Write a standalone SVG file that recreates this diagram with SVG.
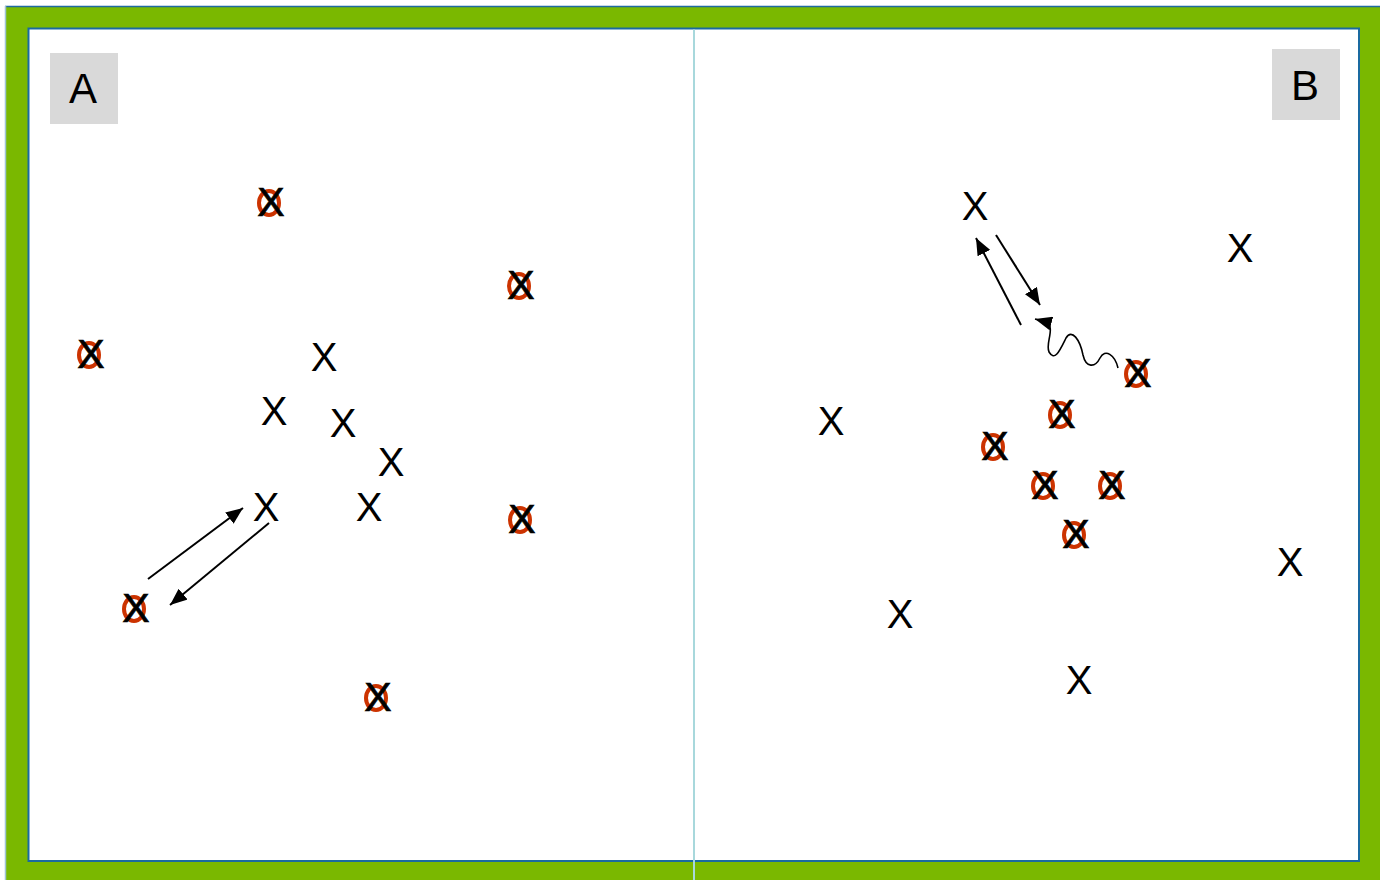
<svg xmlns="http://www.w3.org/2000/svg" width="1380" height="880" viewBox="0 0 1380 880">
<style>
.x{font-family:"Liberation Sans",Arial,sans-serif;font-size:40px;text-anchor:middle;fill:#000}
.xc{font-family:"Liberation Sans",Arial,sans-serif;font-size:41px;text-anchor:middle;fill:#000;stroke:#000;stroke-width:0.7}
.o{fill:none;stroke:#cc3300;stroke-width:4}
.lbl{font-family:"Liberation Sans",Arial,sans-serif;font-size:42px;text-anchor:middle;fill:#000}
.c{fill:none;stroke:#000;stroke-width:2}
</style>
<defs>
<marker id="ah" markerUnits="userSpaceOnUse" markerWidth="18" markerHeight="14" refX="17" refY="7" orient="auto">
<path d="M0,0 L17,7 L0,14 z" fill="#000"/>
</marker>
<g id="co"><ellipse cx="-2" cy="2" rx="10" ry="12" class="o"/></g>
</defs>
<rect x="0" y="0" width="1380" height="880" fill="#fff"/>
<rect x="5" y="6" width="1375" height="874" fill="#7ab800"/>
<line x1="5" y1="6.5" x2="1380" y2="6.5" stroke="#1f6aa0" stroke-width="1.5"/>
<line x1="5.5" y1="6" x2="5.5" y2="880" stroke="#9fc4d4" stroke-width="1.5"/>
<rect x="28.5" y="28.5" width="1330.5" height="832.5" fill="#fff" stroke="#1a6aa0" stroke-width="2"/>
<line x1="694" y1="29.5" x2="694" y2="880" stroke="#a8d8dc" stroke-width="2"/>

<g id="labelA"><rect x="50" y="53" width="68" height="71" fill="#d9d9d9"/><text x="83" y="103" class="lbl">A</text></g>
<g id="labelB"><rect x="1272" y="49" width="68" height="71" fill="#d9d9d9"/><text x="1305" y="100" class="lbl">B</text></g>

<g id="connectors">
<line x1="148" y1="579" x2="243" y2="508" class="c" marker-end="url(#ah)"/>
<line x1="269" y1="523" x2="170" y2="605" class="c" marker-end="url(#ah)"/>
<line x1="1021" y1="325" x2="976" y2="238" class="c" marker-end="url(#ah)"/>
<line x1="996" y1="235" x2="1040" y2="305" class="c" marker-end="url(#ah)"/>
<path d="M1118,368 C1115,355 1105,348 1100,358 C1095,368 1086,368 1083,355 C1080,340 1072,328 1066,338 C1060,350 1055,362 1049,352 C1045,343 1056,328 1046,322 L1035,319" fill="none" stroke="#000" stroke-width="1.6" marker-end="url(#ah)"/>
</g>

<g id="a-c1"><use href="#co" x="271" y="201"/><text x="271" y="216" class="xc">X</text></g>
<g id="a-c2"><use href="#co" x="521" y="284"/><text x="521" y="299" class="xc">X</text></g>
<g id="a-c3"><use href="#co" x="91" y="353"/><text x="91" y="368" class="xc">X</text></g>
<g id="a-c4"><use href="#co" x="522" y="518"/><text x="522" y="533" class="xc">X</text></g>
<g id="a-c5"><use href="#co" x="136" y="607"/><text x="136" y="622" class="xc">X</text></g>
<g id="a-c6"><use href="#co" x="378" y="696"/><text x="378" y="711" class="xc">X</text></g>

<g id="a-x1"><text x="324" y="371" class="x">X</text></g>
<g id="a-x2"><text x="274" y="425" class="x">X</text></g>
<g id="a-x3"><text x="343" y="437" class="x">X</text></g>
<g id="a-x4"><text x="391" y="476" class="x">X</text></g>
<g id="a-x5"><text x="266" y="521" class="x">X</text></g>
<g id="a-x6"><text x="369" y="521" class="x">X</text></g>

<g id="b-x1"><text x="975" y="220" class="x">X</text></g>
<g id="b-x2"><text x="1240" y="262" class="x">X</text></g>
<g id="b-x3"><text x="831" y="435" class="x">X</text></g>
<g id="b-x4"><text x="1290" y="576" class="x">X</text></g>
<g id="b-x5"><text x="900" y="628" class="x">X</text></g>
<g id="b-x6"><text x="1079" y="694" class="x">X</text></g>

<g id="b-c1"><use href="#co" x="1138" y="372"/><text x="1138" y="387" class="xc">X</text></g>
<g id="b-c2"><use href="#co" x="1062" y="413"/><text x="1062" y="428" class="xc">X</text></g>
<g id="b-c3"><use href="#co" x="995" y="445"/><text x="995" y="460" class="xc">X</text></g>
<g id="b-c4"><use href="#co" x="1045" y="484"/><text x="1045" y="499" class="xc">X</text></g>
<g id="b-c5"><use href="#co" x="1112" y="484"/><text x="1112" y="499" class="xc">X</text></g>
<g id="b-c6"><use href="#co" x="1076" y="533"/><text x="1076" y="548" class="xc">X</text></g>
</svg>
